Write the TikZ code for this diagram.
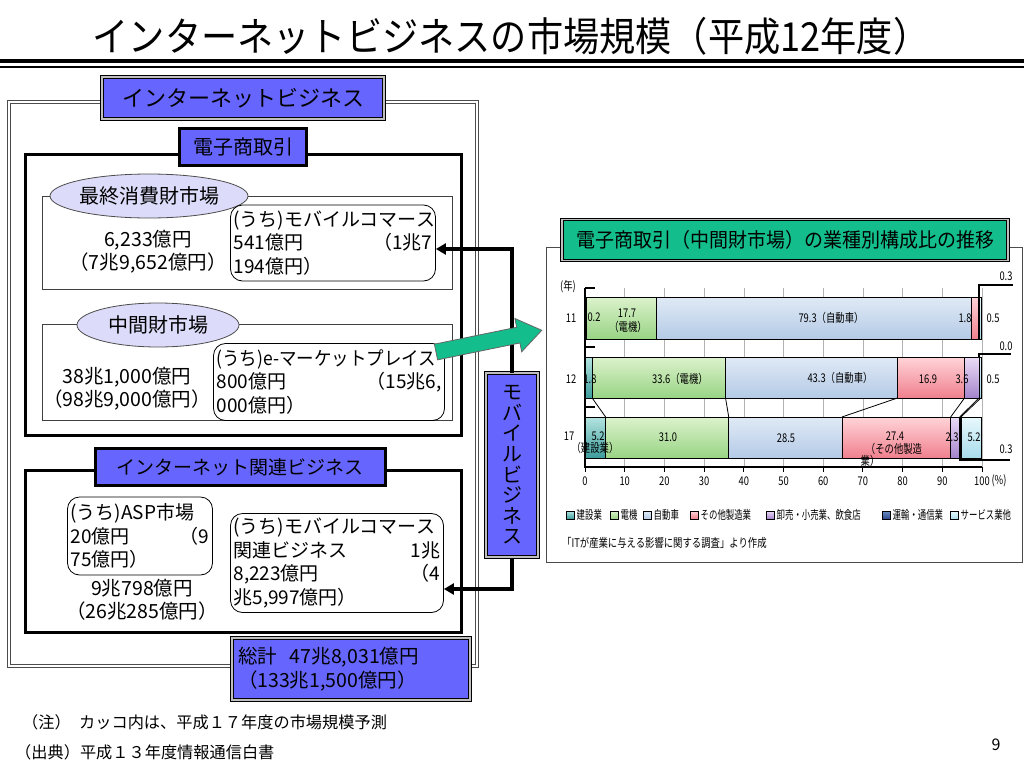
\documentclass[tikz,border=0pt]{standalone}
\usepackage{fontspec}
\setmainfont{Noto Sans CJK JP}
\usetikzlibrary{arrows.meta,positioning,shapes.geometric}
\definecolor{bizblue}{HTML}{6666FF}
\definecolor{mktlav}{HTML}{DCDCFA}
\definecolor{ecgreen}{HTML}{14BE8C}
\definecolor{consT}{HTML}{B4E4E0}\definecolor{consB}{HTML}{3C9C9C}
\definecolor{elecT}{HTML}{DCF2CC}\definecolor{elecB}{HTML}{98D484}
\definecolor{autoT}{HTML}{E0EAF6}\definecolor{autoB}{HTML}{B4CAE6}
\definecolor{mfgT}{HTML}{FFD4D8}\definecolor{mfgB}{HTML}{F0808E}
\definecolor{tradeT}{HTML}{ECDCF6}\definecolor{tradeB}{HTML}{A484CC}
\definecolor{transT}{HTML}{6C8CC4}\definecolor{transB}{HTML}{2C4C8C}
\definecolor{servT}{HTML}{E8F8FC}\definecolor{servB}{HTML}{A8DCEC}
\newcommand\nar[1]{\scalebox{0.78}[1]{#1}}
\newcommand\lgnar[1]{\scalebox{0.7}[1]{#1}}
\tikzset{
  every node/.style={inner sep=0pt},
  bluetag/.style={draw=black, double=gray!50, double distance=1.5pt, line width=1pt, fill=bizblue, font=\fontsize{22}{24}\selectfont},
  ectag/.style={draw=black, line width=3pt, fill=bizblue, font=\fontsize{20}{22}\selectfont},
  secframe/.style={line width=3pt},
  mktframe/.style={draw=gray!50!black, line width=0.8pt},
  mktoval/.style={ellipse, draw=black!70, line width=0.8pt, fill=mktlav, minimum width=162, minimum height=44, font=\fontsize{20}{22}\selectfont},
  sharebox/.style={draw=black, line width=0.8pt, rounded corners=12pt, align=left, inner sep=3pt, font=\fontsize{19}{23.5}\selectfont},
  amount/.style={align=center, font=\fontsize{19.5}{23}\selectfont},
  mobline/.style={line width=3.5pt, -{Triangle[length=10pt,width=11pt]}},
  segbox/.style={draw=black, line width=0.5pt},
  chartfont/.style={font=\fontsize{12}{13}\selectfont},
  leaderline/.style={line width=1.5pt},
  lgsq/.style={draw=black, line width=0.5pt, minimum size=8, anchor=west},
  bcons/.style={top color=consT, bottom color=consB},
  belec/.style={top color=elecT, bottom color=elecB},
  bauto/.style={top color=autoT, bottom color=autoB},
  bmfg/.style={top color=mfgT, bottom color=mfgB},
  btrade/.style={top color=tradeT, bottom color=tradeB},
  btrans/.style={top color=transT, bottom color=transB},
  bserv/.style={top color=servT, bottom color=servB}
}
\begin{document}
\begin{tikzpicture}[x=1pt,y=-1pt]
\useasboundingbox (0,0) rectangle (1024,768);
% title
\node[font=\fontsize{40}{44}\selectfont] (title) at (511,36) {\scalebox{0.905}[1]{インターネットビジネスの市場規模（平成12年度）}};
\draw[line width=4pt] (0,61) -- (1024,61);
\draw[line width=1.5pt] (0,67) -- (1024,67);

% internet business
\draw[draw=gray!60!black, line width=0.8pt, double, double distance=2.5pt] (9,102) rectangle (477,666);
\node[bluetag, minimum width=282, minimum height=42] (ib) at (243,98) {インターネットビジネス};

\draw[secframe] (25,154) rectangle (461,435);
\node[ectag, minimum width=127, minimum height=37] (ec) at (243,147) {電子商取引};

\draw[mktframe] (42,196) rectangle (452,289);
\node[mktoval] (fc) at (149,196) {最終消費財市場};
\node[amount] (fcv) at (148,252) {6,233億円\\（7兆9,652億円）};
\node[sharebox, text width=199, minimum height=76] (mc1) at (333,243) {(うち)モバイルコマース\\541億円\hspace{\fill}（1兆7\\194億円）};

\draw[mktframe] (42,324) rectangle (452,420);
\node[mktoval] (im) at (158,325) {中間財市場};
\node[amount] (imv) at (127,389) {38兆1,000億円\\（98兆9,000億円）};
\node[sharebox, text width=225, minimum height=77] (em) at (329,382) {\scalebox{0.92}[1]{(うち)e-マーケットプレイス}\\800億円\hspace{\fill}（15兆6,\\000億円）};

\draw[secframe] (25,470) rectangle (461,632);
\node[ectag, minimum width=290, minimum height=37, font=\fontsize{19}{22}\selectfont] (ib2) at (240,467) {インターネット関連ビジネス};
\node[sharebox, text width=139, minimum height=78] (asp) at (140,536) {(うち)ASP市場\\20億円\hspace{\fill}（9\\75億円）};
\node[amount] (ibv) at (142,600) {9兆798億円\\（26兆285億円）};
\node[sharebox, text width=207, minimum height=99] (mc2) at (337,563) {(うち)モバイルコマース\\関連ビジネス\hspace{\fill}1兆\\8,223億円\hspace{\fill}（4\\兆5,997億円）};

\node[bluetag, text width=226, minimum height=62, align=left, inner sep=6pt, font=\fontsize{19.5}{24}\selectfont] (tot) at (351,669) {総計\ \ 47兆8,031億円\\（133兆1,500億円）};

% mobile business
\node[bluetag, minimum width=52, minimum height=184, align=center, font=\fontsize{20}{20.6}\selectfont] (mob) at (512,465) {モ\\バ\\イ\\ル\\ビ\\ジ\\ネ\\ス};
\draw[mobline] (mob.north) |- ([yshift=-6pt]mc1.east);
\draw[mobline] (mob.south) |- ([yshift=-26pt]mc2.east);

% chart
\draw[draw=gray!60!black, line width=1pt] (546,247) rectangle (1022,562);
\node[bluetag, fill=ecgreen, minimum width=446, minimum height=41, font=\fontsize{20}{22}\selectfont] (ct) at (785,240) {\scalebox{0.95}[1]{電子商取引（中間財市場）の業種別構成比の推移}};

\begin{scope}[shift={(585,0)}, x=3.97pt]
  \foreach \g in {10,20,...,100} \draw[gray!60, line width=0.6pt] (\g,288) -- (\g,467);
  \foreach \a/\b/\s in {0/0.2/bcons, 0.2/17.9/belec, 17.9/97.2/bauto, 97.2/99.0/bmfg, 99.0/99.3/btrans, 99.3/99.8/bserv}
    \draw[segbox, \s] (\a,297) rectangle (\b,339);
  \foreach \a/\b/\s in {0/1.8/bcons, 1.8/35.4/belec, 35.4/78.7/bauto, 78.7/95.6/bmfg, 95.6/99.2/btrade, 99.2/99.7/bserv}
    \draw[segbox, \s] (\a,357) rectangle (\b,398);
  \foreach \a/\b/\s in {0/5.2/bcons, 5.2/36.2/belec, 36.2/64.7/bauto, 64.7/92.1/bmfg, 92.1/94.4/btrade, 94.4/94.7/btrans, 94.7/99.9/bserv}
    \draw[segbox, \s] (\a,417) rectangle (\b,458);
  \foreach \a/\b in {1.8/5.2, 35.4/36.2, 78.7/64.7, 95.6/92.1, 99.2/94.4, 99.7/94.7}
    \draw[line width=0.8pt] (\a,398) -- (\b,417);
  \draw[line width=1.2pt] (0,288) -- (0,467) -- (100,467);
  \foreach \yy in {288,347,407} \draw[line width=1.2pt] (0,\yy) -- (2.5,\yy);
  \foreach \tk in {0,10,...,100} {
    \draw[line width=1pt] (\tk,467) -- (\tk,472);
    \node[chartfont] (tk\tk) at (\tk,481) {\nar{\tk}};
  }
\end{scope}
\node[chartfont] (pct) at (999,481) {\nar{(\%)}};
\node[chartfont] (yr) at (568,287) {\nar{(年)}};
\node[chartfont] (y11) at (571,318) {\nar{11}};
\node[chartfont] (y12) at (571,379) {\nar{12}};
\node[chartfont] (y17) at (569,436) {\nar{17}};

% labels 11
\node[chartfont] (a1) at (594,317) {\nar{0.2}};
\node[chartfont] (a2) at (627,313) {\nar{17.7}};
\node[chartfont] (a3) at (628,327) {\nar{（電機）}};
\node[chartfont] (a4) at (831,318) {\nar{79.3（自動車）}};
\node[chartfont] (a5) at (965,318) {\nar{1.8}};
\node[chartfont] (a6) at (993,318) {\nar{0.5}};
\node[chartfont] (a7) at (1006,276) {\nar{0.3}};
\draw[leaderline] (979,297) -- (979,285) -- (1013,285);
% labels 12
\node[chartfont] (b1) at (590,379) {\nar{1.8}};
\node[chartfont] (b2) at (680,379) {\nar{33.6（電機）}};
\node[chartfont] (b3) at (840,378) {\nar{43.3（自動車）}};
\node[chartfont] (b4) at (928,379) {\nar{16.9}};
\node[chartfont] (b5) at (962,379) {\nar{3.6}};
\node[chartfont] (b6) at (993,379) {\nar{0.5}};
\node[chartfont] (b7) at (1006,346) {\nar{0.0}};
\draw[leaderline] (979,357) -- (979,354) -- (1011,354);
% labels 17
\node[chartfont] (c1) at (598,436) {\nar{5.2}};
\node[chartfont] (c2) at (595,448) {\nar{（建設業）}};
\node[chartfont] (c3) at (668,437) {\nar{31.0}};
\node[chartfont] (c4) at (786,438) {\nar{28.5}};
\node[chartfont] (c5) at (895,436) {\nar{27.4}};
\node[chartfont] (c6) at (894,449) {\nar{（その他製造}};
\node[chartfont] (c7) at (870,461) {\nar{業）}};
\node[chartfont] (c8) at (952,437) {\nar{2.3}};
\node[chartfont] (c9) at (974,437) {\nar{5.2}};
\node[chartfont] (c10) at (1006,449) {\nar{0.3}};
\draw[leaderline] (960,417) -- (960,460) -- (1010,460);

% legend
\foreach \lx/\lc/\lt in {566/bcons/建設業, 610/belec/電機, 643/bauto/自動車, 690/bmfg/その他製造業, 766/btrade/卸売・小売業、飲食店, 882/btrans/運輸・通信業, 950/bserv/サービス業他} {
  \node[lgsq, \lc] (sq\lx) at (\lx,515) {};
  \node[chartfont, right=2pt of sq\lx] (lg\lx) {\lgnar{\lt}};
}
\node[chartfont, anchor=west] (srcnote) at (562,543) {\nar{「ITが産業に与える影響に関する調査」より作成}};

% green arrow to chart
\begin{scope}[shift={(436,352)}, rotate=11.6]
  \draw[fill=ecgreen, draw=black!60, line width=0.8pt] (0,-8) -- (84,-8) -- (84,-17) -- (108,0) -- (84,17) -- (84,8) -- (0,8) -- cycle;
\end{scope}

% notes
\node[font=\fontsize{16.2}{18}\selectfont, anchor=west] (note) at (22,722) {\makebox[57pt][l]{（注）}カッコ内は、平成１７年度の市場規模予測};
\node[font=\fontsize{16.2}{18}\selectfont, anchor=west] (source) at (15,752) {（出典）平成１３年度情報通信白書};
\node[font=\fontsize{16}{18}\selectfont] (pgno) at (996,745) {9};
\end{tikzpicture}
\end{document}
